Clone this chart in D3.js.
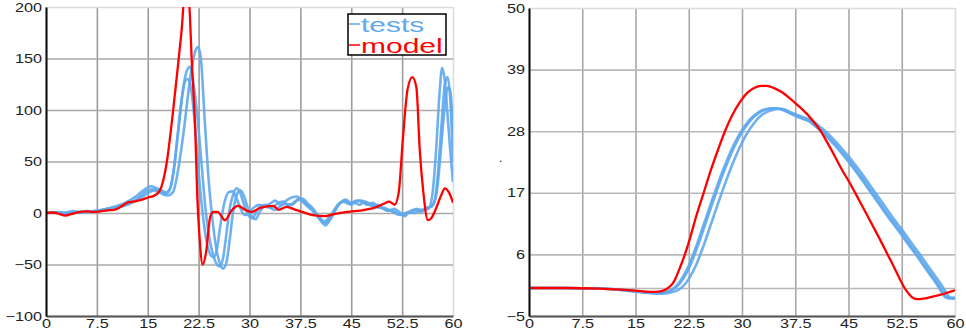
<!DOCTYPE html>
<html>
<head>
<meta charset="utf-8">
<script src="https://cdn.jsdelivr.net/npm/d3@7"></script>
<style>
    body { margin: 0; background: #fff; }
    svg { display: block; }
    .tick text { font-family: 'Liberation Sans', Arial, sans-serif; font-size: 12.5px; fill: #222; }
    .legendText { font-family: 'Liberation Sans', Arial, sans-serif; font-size: 20px; }
</style>
</head>
<body>
<div id="chart"></div>
<script>
'use strict';

/*
Data
 */

const timeTicks = [0, 7.5, 15, 22.5, 30, 37.5, 45, 52.5, 60];
const leftYTicks = [-100, -50, 0, 50, 100, 150, 200];
const rightYTicks = [-5, 6, 17, 28, 39, 50];
const rightGridExtra = [0];
const legendLabels = ['tests', 'model'];

// Left panel, [time, value]
const leftModel = [[0, 0], [1, 0.5], [2, -1], [2.8, -2.5], [4, -0.5], [5, 1], [6, 1.5], [7, 1], [8, 1.5], [9, 2.5], [10, 3],
    [11, 6], [12, 10], [12.8, 11], [13.9, 12.5], [15, 15], [16, 17], [16.8, 22], [17.8, 49], [18.7, 97], [19.5, 146],
    [20, 178], [20.6, 225], [21.1, 205], [21.5, 146], [22, 81], [22.3, 16], [22.6, -20], [23.1, -50], [23.6, -38],
    [24.2, -4], [24.7, 1], [25.3, 1], [26.4, -7], [27.3, 2], [28.3, 7], [29.4, 3], [30.3, 1], [31.6, 5], [33.5, 7],
    [34.3, 3], [35.5, 6], [36.8, 3], [37.8, 1], [39.3, -2], [41.2, -3], [42.5, -1], [44.4, 1], [47, 3], [48.8, 6],
    [49.8, 9], [50.6, 11], [51.4, 8], [52, 20], [52.6, 71], [53.3, 120], [54, 132], [54.6, 122], [55.1, 61],
    [55.6, 22], [56.3, -7], [56.8, -5], [57.6, 6], [58.3, 18], [58.8, 24], [59.4, 20], [60, 10]];

const leftTestA = [[0, 0], [1, 0.5], [2, 0], [3, -1], [4, 0], [5, 1], [6, 1.5], [7, 1], [8, 2], [9, 3], [10, 4], [11, 6],
    [12, 8], [13, 11], [14, 15], [15, 19], [15.8, 22], [16.5, 21], [17.3, 18], [18, 17], [18.7, 20], [19.3, 35],
    [19.9, 60], [20.5, 90], [21, 118], [21.6, 145], [22, 157], [22.4, 161], [22.8, 152], [23.4, 90], [24, 30],
    [24.6, -10], [25.2, -38], [25.7, -50], [26.1, -54], [26.6, -48], [27.1, -25], [27.6, 2], [28.1, 17], [28.6, 22],
    [29.1, 18], [29.7, 6], [30.3, -3], [30.9, -6], [31.5, 1], [32.2, 6], [33, 5], [33.8, 3], [34.6, 7], [35.4, 9],
    [36.2, 8], [37, 12], [37.8, 14], [38.6, 9], [39.4, 4], [40.2, -4], [40.9, -10], [41.6, -8], [42.3, -2], [43, 8],
    [43.8, 11], [44.6, 9], [45.4, 10], [46.2, 8], [47, 11], [47.8, 9], [48.6, 6], [49.4, 5], [50.2, 3], [51, 2],
    [51.8, 0], [52.6, -2], [53.4, 1], [54.2, 0], [55, 2], [55.8, 3], [56.4, 4], [57, 20], [57.5, 60], [58, 115],
    [58.4, 141], [58.8, 128], [59.2, 95], [59.6, 60], [60, 30]];

const leftTestB = [[0, 1], [1, 0], [2, 1], [3, 0], [4, 1], [5, 0.5], [6, 2], [7, 1.5], [8, 3], [9, 4], [10, 6], [11, 8],
    [12, 11], [13, 15], [14, 20], [14.8, 24], [15.5, 26], [16.3, 24], [17, 22], [17.7, 20], [18.3, 24], [18.9, 45],
    [19.5, 80], [20.1, 115], [20.7, 137], [21.2, 142], [21.7, 128], [22.3, 95], [22.9, 50], [23.5, 5], [24.1, -25],
    [24.7, -42], [25.2, -50], [25.6, -52], [26.1, -44], [26.6, -20], [27.1, 5], [27.6, 18], [28.1, 24], [28.6, 20],
    [29.2, 8], [29.8, -2], [30.4, -5], [31, 1], [31.7, 7], [32.5, 8], [33.3, 5], [34.1, 9], [34.9, 11], [35.7, 7],
    [36.5, 10], [37.3, 14], [38.1, 10], [38.9, 6], [39.7, -1], [40.5, -7], [41.2, -12], [41.9, -6], [42.6, 2],
    [43.3, 9], [44.1, 12], [44.9, 8], [45.7, 11], [46.5, 12], [47.3, 9], [48.1, 7], [48.9, 8], [49.7, 4], [50.5, 2],
    [51.3, 4], [52.1, 1], [52.9, -3], [53.7, 2], [54.5, 3], [55.3, 1], [56.1, 5], [56.8, 6], [57.3, 12], [57.8, 40],
    [58.3, 85], [58.8, 125], [59.2, 132], [59.6, 110], [60, 50]];

const leftTestC = [[0, 0], [1, 1], [2, 0], [3, 0.5], [4, 2], [5, 1], [6, 1], [7, 2], [8, 2.5], [9, 4], [10, 5], [11, 7],
    [12, 9], [13, 12], [14, 17], [14.8, 21], [15.6, 23], [16.4, 22], [17.1, 20], [17.7, 19], [18.2, 22], [18.8, 40],
    [19.4, 75], [20, 110], [20.5, 128], [20.9, 130], [21.4, 120], [21.9, 90], [22.5, 40], [23, 5], [23.6, -25],
    [24.2, -40], [24.7, -43], [25.2, -35], [25.7, -12], [26.3, 10], [26.9, 20], [27.5, 21], [28.1, 14], [28.7, 4],
    [29.3, -2], [29.9, 0], [30.6, 5], [31.4, 8], [32.2, 6], [33, 9], [33.8, 12], [34.6, 8], [35.4, 12], [36.2, 15],
    [37, 16], [37.8, 11], [38.6, 6], [39.4, 2], [40.2, -3], [41, -8], [41.8, -4], [42.6, 4], [43.4, 10], [44.2, 13],
    [45, 10], [45.8, 12], [46.6, 11], [47.4, 8], [48.2, 10], [49, 6], [49.8, 5], [50.6, 3], [51.4, 0], [52.2, -2],
    [53, 0], [53.8, 1], [54.6, 4], [55.4, 3], [56.2, 5], [57, 8], [57.6, 20], [58.2, 60], [58.8, 105], [59.3, 122],
    [59.6, 118], [60, 80]];

// Right panel, [time, value]
const rightModel = [[0, 0], [5, 0], [10, -0.1], [13, -0.3], [16, -0.6], [17.7, -0.7], [18.8, -0.5], [19.6, 0],
    [20.3, 0.9], [21.3, 3.75], [22.3, 7.3], [23.6, 13], [24.6, 17], [25.6, 21], [26.6, 24.6], [27.6, 28], [28.6, 30.8],
    [29.7, 33.2], [30.7, 34.8], [31.7, 35.7], [32.7, 36.1], [33.5, 36.1], [34.5, 35.7], [35.7, 34.9], [36.7, 33.9],
    [37.7, 32.8], [39.2, 31], [40.2, 29.5], [41, 28.2], [42, 26], [43, 23.7], [44, 21.3], [45.2, 18.7], [46.4, 15.9],
    [47.5, 13.3], [48.5, 10.9], [49.5, 8.5], [50.5, 6], [51.5, 3.5], [52.3, 1.4], [52.9, 0], [53.6, -1.2],
    [54.3, -1.9], [55, -2], [56, -1.8], [57, -1.5], [58, -1.2], [59, -0.8], [60, -0.4]];

const rightTestA = [[0, 0], [5, 0], [10, -0.1], [13, -0.3], [16, -0.7], [18.5, -0.9], [19.6, -0.6], [20.6, 0.2],
    [21.6, 1.8], [22.6, 4.3], [23.6, 7.6], [24.6, 11.3], [25.6, 15], [26.6, 18.6], [27.6, 21.9], [28.6, 24.9],
    [29.6, 27.4], [30.6, 29.3], [31.6, 30.7], [32.6, 31.6], [33.6, 32], [34.4, 32.1], [35.4, 31.9], [36.4, 31.4],
    [37.4, 30.8], [38.4, 30.3], [39.4, 29.8], [40.4, 28.8], [41.4, 27.7], [42.4, 26.4], [43.4, 25], [44.4, 23.5],
    [45.4, 21.9], [46.4, 20.2], [47.4, 18.4], [48.4, 16.6], [49.4, 14.8], [50.4, 13], [51.4, 11.3], [52.4, 9.6],
    [53.4, 7.8], [54.4, 6.1], [55.4, 4.3], [56.4, 2.5], [57.4, 0.7], [58.1, -0.7], [58.6, -1.6], [59, -1.8], [60, -1.8]];

const rightTestB = [[0, 0], [5, 0], [10, -0.1], [13, -0.4], [16, -0.8], [18.8, -1], [20.6, -0.6], [21.6, 0.2],
    [22.6, 1.8], [23.6, 4.3], [24.6, 7.6], [25.6, 11.3], [26.6, 15], [27.6, 18.6], [28.6, 21.9], [29.6, 24.9],
    [30.6, 27.4], [31.6, 29.3], [32.6, 30.7], [33.6, 31.5], [34.6, 31.9], [35.4, 32], [36.2, 31.8], [37, 31.3],
    [38, 30.8], [39, 30.3], [40, 29.8], [41, 28.8], [42, 27.7], [43, 26.4], [44, 25], [45, 23.5], [46, 21.9],
    [47, 20.2], [48, 18.4], [49, 16.6], [50, 14.8], [51, 13], [52, 11.3], [53, 9.6], [54, 7.8], [55, 6.1],
    [56, 4.3], [57, 2.5], [58, 0.7], [58.7, -0.7], [59.2, -1.6], [59.6, -1.8], [60, -1.8]];

const rightTestC = [[0, 0], [5, 0], [10, -0.1], [13, -0.3], [16, -0.7], [18.6, -0.9], [19.8, -0.6], [20.8, 0.2],
    [21.8, 1.8], [22.8, 4.3], [23.8, 7.6], [24.8, 11.3], [25.8, 15], [26.8, 18.6], [27.8, 21.9], [28.8, 24.9],
    [29.8, 27.4], [30.8, 29.3], [31.8, 30.7], [32.8, 31.6], [33.8, 32], [34.6, 32.1], [35.6, 31.9], [36.6, 31.4],
    [37.6, 30.8], [38.6, 30.3], [39.6, 29.8], [40.6, 28.8], [41.6, 27.7], [42.6, 26.4], [43.6, 25], [44.6, 23.5],
    [45.6, 21.9], [46.6, 20.2], [47.6, 18.4], [48.6, 16.6], [49.6, 14.8], [50.6, 13], [51.6, 11.3], [52.6, 9.6],
    [53.6, 7.8], [54.6, 6.1], [55.6, 4.3], [56.6, 2.5], [57.6, 0.7], [58.3, -0.7], [58.8, -1.6], [59.2, -1.8], [60, -1.8]];

/*
Panel
 */

class Panel {

    // Colors
    blue = '#5fa9ec';
    red = '#ff0000';
    textScale = 1.3;

    constructor(_svg, _cfg) {
        this.svg = _svg;
        this.cfg = _cfg;
        this.init();
    }

    init() {
        const vis = this;
        const c = vis.cfg;

        vis.w = c.right - c.left;
        vis.h = c.bottom - c.top;

        vis.xScale = d3.scaleLinear().domain([0, 60]).range([0, vis.w]);
        vis.yScale = d3.scaleLinear().domain(c.yDomain).range([vis.h, 0]);

        vis.g = vis.svg.append('g')
            .attr('transform', `translate(${c.left},${c.top})`);

        vis.g.append('clipPath')
            .attr('id', c.id + 'Clip')
            .append('rect')
            .attr('width', vis.w)
            .attr('height', vis.h);

        vis.render();
    }

    render() {
        const vis = this;
        const c = vis.cfg;

        // Grid
        const vGrid = vis.g.append('g')
            .attr('transform', `translate(0,${vis.h})`)
            .call(d3.axisBottom(vis.xScale).tickValues(timeTicks).tickSize(-vis.h).tickFormat(''));
        vGrid.select('.domain').remove();
        vGrid.selectAll('line')
            .attr('stroke', d => d === 60 ? '#dcdcdc' : c.vGridColor)
            .attr('stroke-width', 1.6);

        const hGrid = vis.g.append('g')
            .call(d3.axisLeft(vis.yScale).tickValues(c.yTicks.concat(c.gridExtra)).tickSize(-vis.w).tickFormat(''));
        hGrid.select('.domain').remove();
        hGrid.selectAll('line')
            .attr('stroke', d => d === c.yDomain[1] ? '#dcdcdc' : c.hGridColor)
            .attr('stroke-width', 1.6);

        // Lines
        const line = d3.line()
            .x(d => vis.xScale(d[0]))
            .y(d => vis.yScale(d[1]))
            .curve(d3.curveMonotoneX);

        const lineG = vis.g.append('g')
            .attr('clip-path', `url(#${c.id}Clip)`);
        lineG.selectAll('.testLine')
            .data(c.tests)
            .join('path')
            .attr('class', 'testLine')
            .attr('d', line)
            .attr('fill', 'none')
            .attr('stroke', vis.blue)
            .attr('stroke-width', 2.6)
            .attr('stroke-opacity', 0.9);
        lineG.append('path')
            .datum(c.model)
            .attr('d', line)
            .attr('fill', 'none')
            .attr('stroke', vis.red)
            .attr('stroke-width', 2.3);

        // Axes
        const xAxisG = vis.g.append('g')
            .attr('transform', `translate(0,${vis.h})`)
            .call(d3.axisBottom(vis.xScale).tickValues(timeTicks).tickSize(0).tickPadding(3).tickFormat(d3.format('')));
        xAxisG.select('.domain').attr('stroke', '#555').attr('stroke-width', 2);
        xAxisG.selectAll('text').attr('transform', `scale(${vis.textScale},1)`);

        const yAxisG = vis.g.append('g')
            .call(d3.axisLeft(vis.yScale).tickValues(c.yTicks).tickSize(0).tickPadding(3));
        yAxisG.select('.domain').attr('stroke', '#111').attr('stroke-width', 2);
        yAxisG.selectAll('text').attr('transform', `scale(${vis.textScale},1)`);
    }
}

/*
Build
 */

const svg = d3.select('#chart')
    .append('svg')
    .attr('width', 966)
    .attr('height', 334);

new Panel(svg, {
    id: 'left', left: 46, right: 453, top: 7, bottom: 316,
    yDomain: [-100, 200], yTicks: leftYTicks, gridExtra: [],
    vGridColor: '#9c9c9c', hGridColor: '#aaaaaa',
    tests: [leftTestC, leftTestB, leftTestA], model: leftModel
});

new Panel(svg, {
    id: 'right', left: 529, right: 955, top: 8, bottom: 316,
    yDomain: [-5, 50], yTicks: rightYTicks, gridExtra: rightGridExtra,
    vGridColor: '#a8a8a8', hGridColor: '#b8b8b8',
    tests: [rightTestC, rightTestB, rightTestA], model: rightModel
});

// Stray y label of the right panel
svg.append('text')
    .attr('x', 499)
    .attr('y', 162)
    .style('font-family', 'Liberation Sans, Arial, sans-serif')
    .style('font-size', '12px')
    .attr('fill', '#222')
    .text('.');

// Legend
const legend = svg.append('g')
    .attr('transform', 'translate(348,14)');
legend.append('rect')
    .attr('width', 98)
    .attr('height', 41)
    .attr('fill', '#fff')
    .attr('stroke', '#000')
    .attr('stroke-width', 1.5);
legend.selectAll('.legendItem')
    .data(legendLabels)
    .join('g')
    .attr('class', 'legendItem')
    .attr('transform', (d, i) => `translate(0,${10 + i * 21})`)
    .each(function(d, i) {
        const item = d3.select(this);
        const color = i === 0 ? '#5fa9ec' : '#ff0000';
        item.append('line')
            .attr('x1', 1).attr('x2', 12)
            .attr('stroke', color)
            .attr('stroke-width', 1.5);
        item.append('text')
            .attr('class', 'legendText')
            .attr('transform', 'translate(13,8) scale(1.5,1)')
            .attr('fill', color)
            .text(d);
    });
</script>
</body>
</html>
